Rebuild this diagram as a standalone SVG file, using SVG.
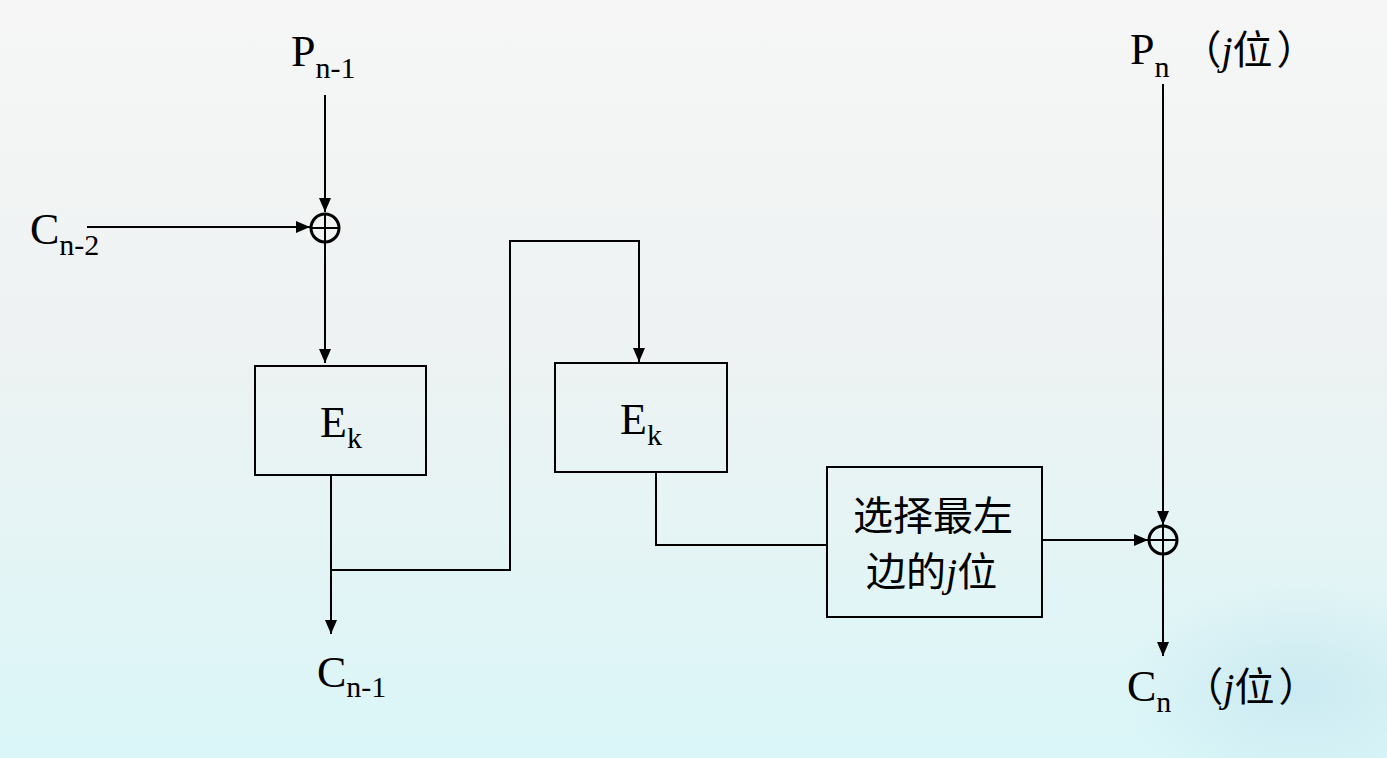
<svg xmlns="http://www.w3.org/2000/svg" width="1387" height="758" viewBox="0 0 1387 758">
<style>
.t{font-family:"Liberation Serif","Noto Sans CJK SC",serif;fill:#000}
.big{font-size:44px}
.sub{font-size:30px}
.cjk{font-family:"Liberation Serif","Noto Sans CJK SC",serif;font-size:40px}
.ln{fill:none;stroke:#000;stroke-width:2}
.box{fill:none;stroke:#000;stroke-width:2}
.xr{fill:none;stroke:#000;stroke-width:3}
</style>
<defs>
<linearGradient id="bg" x1="0" y1="0" x2="0" y2="1">
<stop offset="0" stop-color="#f6f6f6"/>
<stop offset="0.45" stop-color="#eef2f2"/>
<stop offset="1" stop-color="#daf6f8"/>
</linearGradient>
<radialGradient id="snow" cx="0.5" cy="0.5" r="0.5">
<stop offset="0" stop-color="#bfe3ee" stop-opacity="0.6"/>
<stop offset="1" stop-color="#bfe3ee" stop-opacity="0"/>
</radialGradient>
<marker id="ah" viewBox="0 0 14 12" refX="14" refY="6" markerWidth="14" markerHeight="12" markerUnits="userSpaceOnUse" orient="auto">
<path d="M0,0 L14,6 L0,12 z" fill="#000"/>
</marker>
</defs>
<rect width="1387" height="758" fill="url(#bg)"/>
<ellipse cx="1300" cy="690" rx="180" ry="110" fill="url(#snow)"/>

<g id="connectors">
<line class="ln" x1="325" y1="95" x2="325" y2="212" marker-end="url(#ah)"/>
<line class="ln" x1="87" y1="227" x2="310" y2="227" marker-end="url(#ah)"/>
<line class="ln" x1="325" y1="242" x2="325" y2="363" marker-end="url(#ah)"/>
<line class="ln" x1="331" y1="476" x2="331" y2="634" marker-end="url(#ah)"/>
<polyline class="ln" points="331,570 510,570 510,241 639,241 639,362" marker-end="url(#ah)"/>
<polyline class="ln" points="656,473 656,545 827,545"/>
<line class="ln" x1="1042" y1="540" x2="1148" y2="540" marker-end="url(#ah)"/>
<line class="ln" x1="1163" y1="84" x2="1163" y2="525" marker-end="url(#ah)"/>
<line class="ln" x1="1163" y1="555" x2="1163" y2="656" marker-end="url(#ah)"/>
</g>

<g id="xor1">
<circle cx="325" cy="228" r="14" class="xr"/>
<line class="ln" x1="311" y1="228" x2="339" y2="228"/>
<line class="ln" x1="325" y1="214" x2="325" y2="242"/>
</g>
<g id="xor2">
<circle cx="1163" cy="540" r="14" class="xr"/>
<line class="ln" x1="1149" y1="540" x2="1177" y2="540"/>
<line class="ln" x1="1163" y1="526" x2="1163" y2="554"/>
</g>

<g id="pn1"><text class="t big" x="291" y="66">P<tspan class="sub" dy="12">n-1</tspan></text></g>
<g id="cn2"><text class="t big" x="30" y="244">C<tspan class="sub" dy="11">n-2</tspan></text></g>
<g id="box1">
<rect class="box" x="255" y="366" width="171" height="109"/>
<text class="t big" x="320" y="437">E<tspan class="sub" dy="11">k</tspan></text>
</g>
<g id="box2">
<rect class="box" x="555" y="363" width="172" height="109"/>
<text class="t big" x="620" y="434">E<tspan class="sub" dy="11">k</tspan></text>
</g>
<g id="box3">
<rect class="box" x="827" y="467" width="215" height="150"/>
<text class="cjk" x="853" y="530">选择最左</text>
<text class="cjk" x="866" y="586">边的<tspan font-style="italic">j</tspan>位</text>
</g>
<g id="cn1"><text class="t big" x="317" y="687">C<tspan class="sub" dy="10">n-1</tspan></text></g>
<g id="pn"><text class="t big" x="1130" y="64">P<tspan class="sub" dy="13">n</tspan><tspan class="cjk" dy="-13" dx="12">（<tspan font-style="italic">j</tspan>位<tspan dx="4">）</tspan></tspan></text></g>
<g id="cn"><text class="t big" x="1127" y="701">C<tspan class="sub" dy="11">n</tspan><tspan class="cjk" dy="-11" dx="12">（<tspan font-style="italic">j</tspan>位<tspan dx="4">）</tspan></tspan></text></g>
</svg>
